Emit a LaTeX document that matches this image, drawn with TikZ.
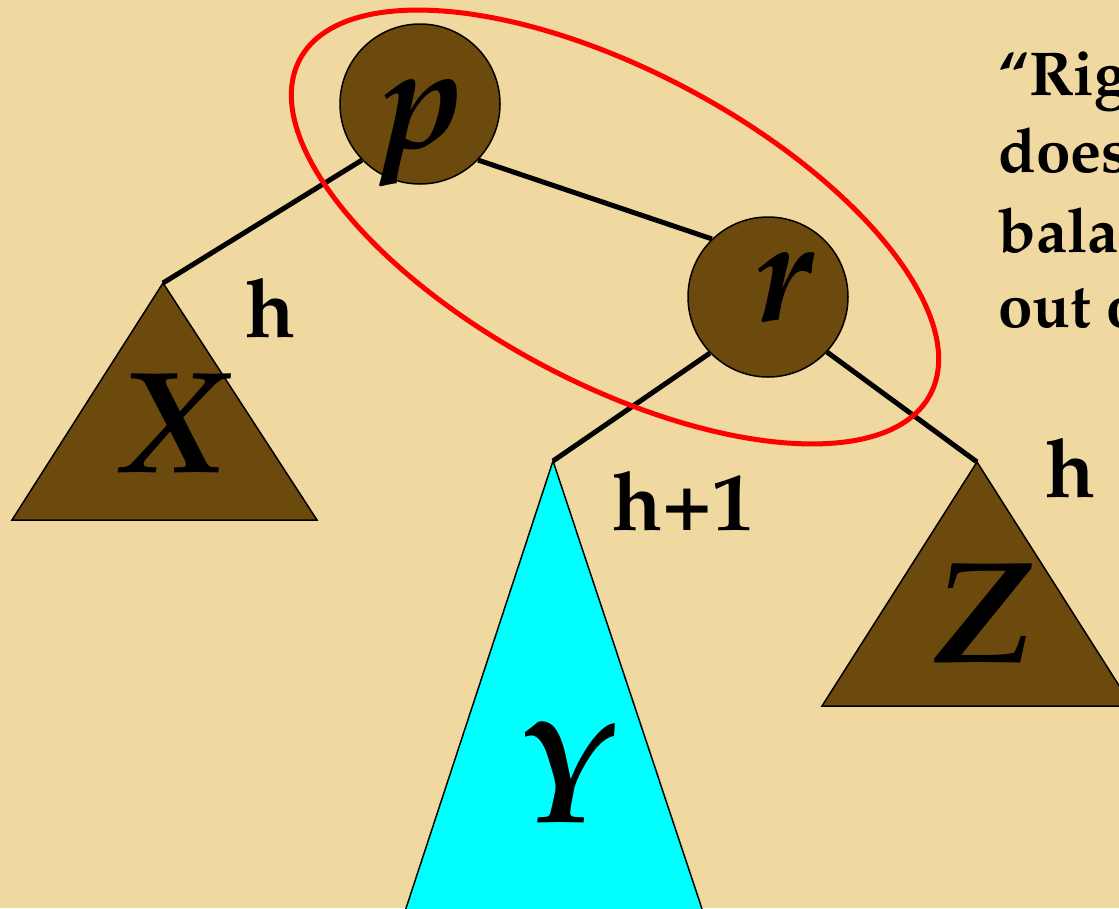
\documentclass[tikz,border=0pt]{standalone}
\usepackage[T1]{fontenc}
\usepackage{mathpazo}
\definecolor{parch}{RGB}{239,217,160}
\definecolor{nodebrown}{RGB}{108,74,14}
\definecolor{ycyan}{RGB}{0,255,255}
\definecolor{ringred}{RGB}{255,0,0}
\tikzset{
  treenode/.style={circle, draw=black, line width=1.5pt, fill=nodebrown, minimum size=160pt, inner sep=0pt},
  treeedge/.style={line width=5pt, draw=black},
  subtree/.style={draw=black, line width=1.5pt, fill=nodebrown},
  biglabel/.style={font=\fontsize{145}{150}\selectfont\bfseries\itshape, anchor=base, inner sep=0pt},
  heightlabel/.style={font=\fontsize{82}{90}\selectfont\bfseries, anchor=base, inner sep=0pt},
  notetext/.style={font=\fontsize{62}{77}\selectfont\bfseries, anchor=base west, inner sep=0pt},
  ring/.style={draw=ringred, line width=5pt}
}
\begin{document}
\begin{tikzpicture}[x=1pt,y=-1pt]
\useasboundingbox (0,0) rectangle (1119,908);
\clip (0,0) rectangle (1119,908);
\fill[parch] (0,0) rectangle (1119,908);

% subtree apexes
\coordinate (Xtop) at (163,283);
\coordinate (Ytop) at (553,461);
\coordinate (Ztop) at (977,462);

% subtrees
\filldraw[subtree] (Xtop) -- (12,520) -- (317,520) -- cycle;
\filldraw[subtree, fill=ycyan] (Ytop) -- (389,960) -- (719,960) -- cycle;
\filldraw[subtree] (Ztop) -- (822,706) -- (1132,706) -- cycle;

% tree nodes
\node[treenode] (p) at (420,104) {};
\node[treenode] (r) at (768,297) {};

% edges
\draw[treeedge] (p.224) -- (Xtop);
\draw[treeedge] (p.316) -- (r.134);
\draw[treeedge] (r.224) -- (Ytop);
\draw[treeedge] (r.317) -- (Ztop);

% letters
\node[biglabel] (plabel) at (423,147) {p};
\node[biglabel] (rlabel) at (784,320) {r};
\node[biglabel] (xlabel) at (172,472) {X};
\node[biglabel] (ylabel) at (562,822) {Y};
\node[biglabel] (zlabel) at (983,662) {Z};

% heights
\node[heightlabel] (hx) at (271,337) {h};
\node[heightlabel] (hy) at (683,530) {h+1};
\node[heightlabel] (hz) at (1071,497) {h};

% note
\node[notetext] (n1) at (998,95) {``Right rotation''};
\node[notetext] (n2) at (998,172) {does not restore};
\node[notetext] (n3) at (998,252) {balance, still};
\node[notetext] (n4) at (998,327) {out of balance};

% highlight ring
\draw[ring, rotate around={-28:(615,227)}] (615,227) ellipse [x radius=357, y radius=156];
\end{tikzpicture}
\end{document}
